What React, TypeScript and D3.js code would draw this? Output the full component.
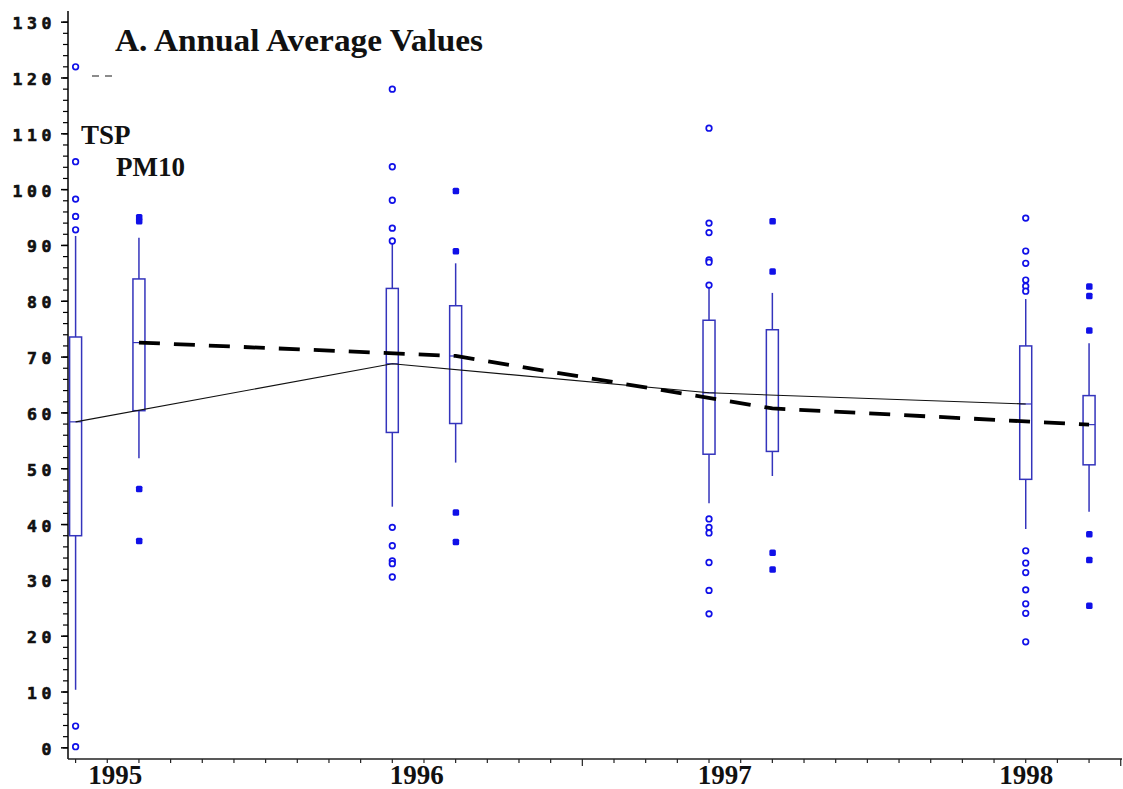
import React from "react";
import * as d3 from "d3";

// ---------- data ----------
const years = [1995, 1996, 1997, 1998];
const pmOffset = 0.2; // PM10 box drawn 0.2 yr to the right of TSP

const tspMedian = [58.4, 68.8, 63.6, 61.6];
const tspQ1 = [38.0, 56.5, 52.6, 48.1];
const tspQ3 = [73.6, 82.3, 76.6, 72.0];
const tspLow = [10.4, 43.2, 43.8, 39.2];
const tspHigh = [91.7, 90.7, 82.4, 80.4];
const tspOutliers = [
  [122, 105, 98.3, 95.2, 92.8, 3.9, 0.2],
  [118, 104.1, 98.1, 93.1, 90.8, 39.5, 36.2, 33.5, 33.0, 30.6],
  [111, 94, 92.3, 87.4, 87.0, 82.9, 41, 39.5, 38.5, 33.2, 28.2, 24.0],
  [94.9, 89, 86.8, 83.8, 82.7, 81.8, 35.3, 33.1, 31.4, 28.3, 25.8, 24.1, 19.0],
];

const pmMedian = [72.6, 70.2, 60.8, 57.9];
const pmQ1 = [60.4, 58.1, 53.1, 50.7];
const pmQ3 = [84.0, 79.2, 74.9, 63.1];
const pmLow = [51.9, 51.1, 48.7, 42.3];
const pmHigh = [91.4, 86.8, 81.5, 72.5];
const pmOutliers = [
  [95.1, 94.4, 46.4, 37.1],
  [99.8, 89.0, 42.2, 36.9],
  [94.4, 85.4, 35.0, 32.0],
  [82.7, 81.0, 74.8, 38.3, 33.7, 25.5],
];

const yTicks = d3.range(0, 131, 10);
const yMinorTicks = d3.range(0, 131, 2);
const xTicks = d3.range(0, 34).map((i) => 1995 + i * 0.1);
const xLabels = ["1995", "1996", "1997", "1998"];
const xLabelPos = [1995.125, 1996.077, 1997.05, 1998.002];

const title = "A. Annual Average Values";

// ---------- layout ----------
const W = 1123;
const H = 789;
const x = d3.scaleLinear().domain([1994.976, 1998.304]).range([68, 1122]);
const y = d3.scaleLinear().domain([-2, 132]).range([759, 11]);

const BOX = "#3434bc";
const PT = "#1010e8";
const BW = 12;

function Box({ cx, q1, med, q3, lo, hi }: any) {
  return (
    <g stroke={BOX} strokeWidth={1.5} fill="none">
      <line x1={cx} x2={cx} y1={y(hi)} y2={y(q3)} />
      <line x1={cx} x2={cx} y1={y(q1)} y2={y(lo)} />
      <rect x={cx - BW / 2} y={y(q3)} width={BW} height={y(q1) - y(q3)} />
      <line x1={cx - BW / 2} x2={cx + BW / 2} y1={y(med)} y2={y(med)} strokeWidth={1.2} />
    </g>
  );
}

export default function App() {
  const tspLine = d3
    .line<number>()
    .x((_, i) => x(years[i]))
    .y((d) => y(d))(tspMedian) as string;
  const pmLine = d3
    .line<number>()
    .x((_, i) => x(years[i] + pmOffset))
    .y((d) => y(d))(pmMedian) as string;

  return (
    <svg
      width={W}
      height={H}
      style={{ position: "absolute", left: 0, top: 0, background: "#fff" }}
    >
      <rect width={W} height={H} fill="#fff" />
      {/* y axis */}
      <line x1={68} x2={68} y1={11} y2={759} stroke="#000" strokeWidth={1.5} />
      {yMinorTicks.map((t) => (
        <line key={"m" + t} x1={63} x2={68} y1={y(t)} y2={y(t)} stroke="#000" strokeWidth={1.2} />
      ))}
      {yTicks.map((t) => (
        <line key={"M" + t} x1={61} x2={68} y1={y(t)} y2={y(t)} stroke="#000" strokeWidth={1.5} />
      ))}
      {yTicks.map((t) => {
        const s = String(t);
        const n = s.length;
        return (
          <g key={"L" + t}>
            {s.split("").map((ch, i) => (
              <text
                key={i}
                x={46.5 - (n - 1 - i) * 14.5}
                y={y(t) + 7}
                textAnchor="middle"
                fontFamily="'DejaVu Sans Mono', monospace"
                fontWeight="bold"
                fontSize={16.5}
                fill="#111"
                stroke="#111"
                strokeWidth={0.6}
              >
                {ch}
              </text>
            ))}
          </g>
        );
      })}

      {/* x axis */}
      <line x1={68} x2={1122} y1={759} y2={759} stroke="#222" strokeWidth={1.5} />
      {xTicks.map((t, i) => (
        <line
          key={"xt" + i}
          x1={x(t)}
          x2={x(t)}
          y1={759}
          y2={i === 16 || i === 33 ? 766 : 763}
          stroke="#222"
          strokeWidth={1.2}
        />
      ))}
      {xLabels.map((l, i) => (
        <text
          key={l}
          x={x(xLabelPos[i])}
          y={784}
          textAnchor="middle"
          fontFamily="'Liberation Serif', 'Times New Roman', serif"
          fontWeight="bold"
          fontSize={27}
          fill="#111"
        >
          {l}
        </text>
      ))}

      {/* boxes */}
      {years.map((yr, i) => (
        <Box key={"t" + yr} cx={x(yr)} q1={tspQ1[i]} med={tspMedian[i]} q3={tspQ3[i]} lo={tspLow[i]} hi={tspHigh[i]} />
      ))}
      {years.map((yr, i) => (
        <Box key={"p" + yr} cx={x(yr + pmOffset)} q1={pmQ1[i]} med={pmMedian[i]} q3={pmQ3[i]} lo={pmLow[i]} hi={pmHigh[i]} />
      ))}

      {/* outliers */}
      {years.map((yr, i) =>
        tspOutliers[i].map((v, j) => (
          <circle key={"to" + i + "_" + j} cx={x(yr)} cy={y(v)} r={2.8} fill="#fff" stroke={PT} strokeWidth={1.7} />
        ))
      )}
      {years.map((yr, i) =>
        pmOutliers[i].map((v, j) => (
          <rect
            key={"po" + i + "_" + j}
            x={x(yr + pmOffset) - 3}
            y={y(v) - 3}
            width={6.5}
            height={6.5}
            rx={1.5}
            fill={PT}
          />
        ))
      )}

      {/* median lines */}
      <path d={tspLine} fill="none" stroke="#111" strokeWidth={1.1} />
      <path d={pmLine} fill="none" stroke="#000" strokeWidth={3.8} strokeDasharray="21 14" />

      {/* legend remnants */}
      <line x1={92} x2={113} y1={76} y2={76} stroke="#666" strokeWidth={1.4} strokeDasharray="7 6" />
      <text x={81} y={144} fontFamily="'Liberation Serif', serif" fontWeight="bold" fontSize={27} fill="#111">
        TSP
      </text>
      <text x={116} y={176} fontFamily="'Liberation Serif', serif" fontWeight="bold" fontSize={27} fill="#111">
        PM10
      </text>

      {/* title */}
      <text
        x={115}
        y={51}
        fontFamily="'Liberation Serif', serif"
        fontWeight="bold"
        fontSize={32}
        textLength={368}
        lengthAdjust="spacingAndGlyphs"
        fill="#111"
      >
        {title}
      </text>
    </svg>
  );
}
